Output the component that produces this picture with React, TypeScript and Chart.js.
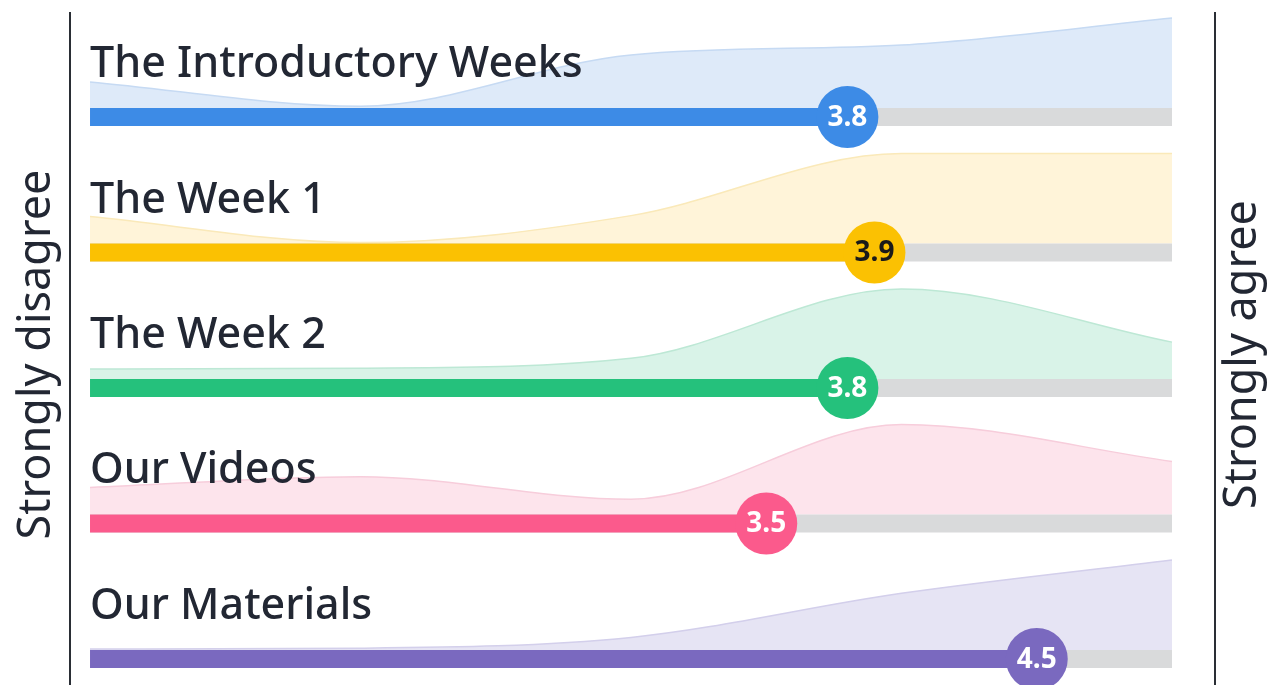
import { useEffect, useRef } from 'react';
import { Chart, registerables } from 'chart.js';

Chart.register(...registerables);

// ---- Data ----
const categories = ['The Introductory Weeks', 'The Week 1', 'The Week 2', 'Our Videos', 'Our Materials'];
const meanScores = [3.8, 3.9, 3.8, 3.5, 4.5];
const likertLevels = [1, 2, 3, 4, 5];
const distIntro = [29, 2, 59, 70, 100];
const distWeek1 = [30, 1, 31, 100, 100];
const distWeek2 = [11, 12, 23, 100, 41];
const distVideos = [30, 42, 17, 100, 59];
const distMaterials = [1, 2, 14, 63, 100];
const distributions = [distIntro, distWeek1, distWeek2, distVideos, distMaterials];
const leftLabel = 'Strongly disagree';
const rightLabel = 'Strongly agree';

// ---- Styles ----
const barColors = ['#3d8be6', '#fbc102', '#25c17c', '#fb5a8c', '#7a69bf'];
const areaColors = ['#deeaf9', '#fff4d9', '#d9f3e8', '#fde4ec', '#e6e4f4'];
const areaBorders = ['#c6daf3', '#fae9b9', '#bde8d5', '#f7cddb', '#d3cfeb'];
const labelColors = ['#ffffff', '#1a1a1a', '#ffffff', '#ffffff', '#ffffff'];
const trackColor = '#d9dadb';
const textColor = '#222733';
const BAR_PX = 18;
const HALF = 0.0664; // half bar thickness in row units
const AMP = 0.664; // max distribution height in row units
const W = 1269;
const H = 685;

export default function App() {
  const ref = useRef<HTMLCanvasElement | null>(null);

  useEffect(() => {
    if (!ref.current) return;
    const datasets: any[] = [];
    distributions.forEach((dist, i) => {
      datasets.push({
        type: 'line',
        data: likertLevels.map((lv, k) => ({ x: lv, y: i - HALF - (AMP * dist[k]) / 100 })),
        fill: { value: i - HALF },
        backgroundColor: areaColors[i],
        borderColor: areaBorders[i],
        borderWidth: 1.5,
        pointRadius: 0,
        cubicInterpolationMode: 'monotone',
        order: 4,
        clip: false,
      });
      datasets.push({
        type: 'line',
        data: [
          { x: likertLevels[0], y: i },
          { x: likertLevels[likertLevels.length - 1], y: i },
        ],
        borderColor: trackColor,
        borderWidth: BAR_PX,
        borderCapStyle: 'butt',
        pointRadius: 0,
        fill: false,
        order: 3,
        clip: false,
      });
      datasets.push({
        type: 'line',
        data: [
          { x: likertLevels[0], y: i },
          { x: meanScores[i], y: i },
        ],
        borderColor: barColors[i],
        borderWidth: BAR_PX,
        borderCapStyle: 'butt',
        pointRadius: 0,
        fill: false,
        order: 2,
        clip: false,
      });
    });
    const markerIndex = datasets.length;
    datasets.push({
      type: 'scatter',
      data: meanScores.map((m, i) => ({ x: m, y: i })),
      pointRadius: 31,
      pointBackgroundColor: barColors,
      pointBorderWidth: 0,
      showLine: false,
      order: 1,
      clip: false,
    });

    const decor = {
      id: 'decor',
      beforeDatasetsDraw(chart: any) {
        const { ctx, chartArea } = chart;
        ctx.save();
        ctx.strokeStyle = '#2a2e35';
        ctx.lineWidth = 2;
        [chartArea.left, chartArea.right].forEach((xp: number) => {
          ctx.beginPath();
          ctx.moveTo(xp, chartArea.top);
          ctx.lineTo(xp, chartArea.bottom);
          ctx.stroke();
        });
        ctx.restore();
      },
      afterDatasetsDraw(chart: any) {
        const { ctx, chartArea, scales } = chart;
        const xs = scales.x;
        const ys = scales.y;
        ctx.save();
        // row titles
        ctx.font = '500 43px "Noto Sans"';
        ctx.fillStyle = textColor;
        ctx.textAlign = 'left';
        ctx.textBaseline = 'alphabetic';
        categories.forEach((c, i) => {
          ctx.fillText(c, xs.getPixelForValue(likertLevels[0]), ys.getPixelForValue(i) - 40);
        });
        // value labels
        const meta = chart.getDatasetMeta(markerIndex);
        ctx.font = 'bold 28px "Noto Sans"';
        ctx.textAlign = 'center';
        ctx.textBaseline = 'middle';
        meta.data.forEach((pt: any, i: number) => {
          ctx.fillStyle = labelColors[i];
          ctx.fillText(meanScores[i].toFixed(1), pt.x, pt.y + 1);
        });
        // side labels
        const cy = (chartArea.top + chartArea.bottom) / 2 + 6;
        ctx.font = '45px "Noto Sans"';
        ctx.fillStyle = textColor;
        ctx.save();
        ctx.translate(chartArea.left - 33, cy);
        ctx.rotate(-Math.PI / 2);
        ctx.fillText(leftLabel, 0, 0);
        ctx.restore();
        ctx.save();
        ctx.translate(chartArea.right + 28, cy);
        ctx.rotate(-Math.PI / 2);
        ctx.fillText(rightLabel, 0, 0);
        ctx.restore();
        ctx.restore();
      },
    };

    const chart = new Chart(ref.current, {
      type: 'line',
      data: { datasets },
      options: {
        animation: false,
        responsive: false,
        maintainAspectRatio: false,
        devicePixelRatio: 1,
        events: [],
        layout: { autoPadding: false, padding: { left: 70, right: 54, top: 12, bottom: 0 } },
        scales: {
          x: { type: 'linear', min: 0.926, max: 5.159, display: false },
          y: { type: 'linear', min: -0.775, max: 4.192, reverse: true, display: false },
        },
        plugins: {
          legend: { display: false },
          tooltip: { enabled: false },
        },
      },
      plugins: [decor],
    } as any);
    return () => chart.destroy();
  }, []);

  return (
    <div style={{ position: 'fixed', left: 0, top: 0, width: W, height: H, background: '#ffffff', overflow: 'hidden' }}>
      <canvas ref={ref} width={W} height={H} style={{ display: 'block', width: W, height: H }} />
    </div>
  );
}
